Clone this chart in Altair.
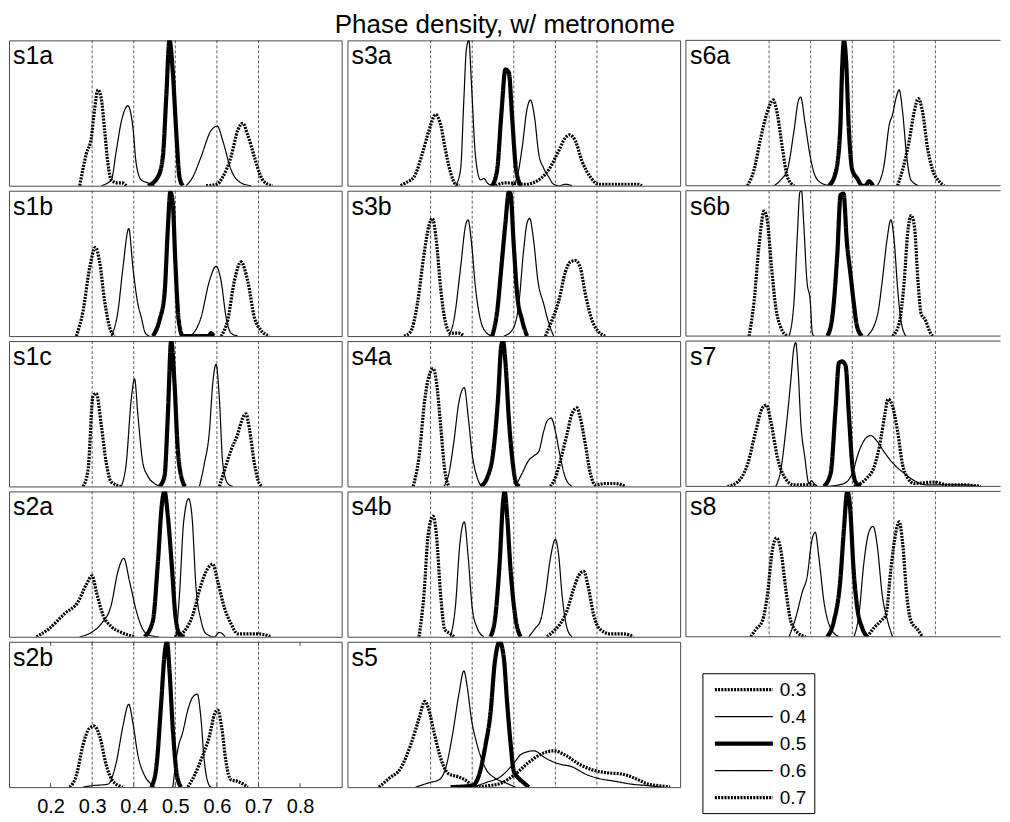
import altair as alt
import pandas as pd

FONT = "Liberation Sans"
TITLE = "Phase density, w/ metronome"
PHASES = ["0.3", "0.4", "0.5", "0.6", "0.7"]
GRID = [0.3, 0.4, 0.5, 0.6, 0.7]
TICKS = [0.2, 0.3, 0.4, 0.5, 0.6, 0.7, 0.8]

# ---- density curves: phase -> (x values, height as share of panel) ----
S1A = {
    "0.3": ([0.270, 0.286, 0.298, 0.306, 0.314, 0.322, 0.330, 0.338, 0.346, 0.360, 0.372, 0.382],
            [0, 0.22, 0.33, 0.53, 0.66, 0.60, 0.38, 0.15, 0.04, 0.02, 0.02, 0]),
    "0.4": ([0.322, 0.346, 0.358, 0.370, 0.386, 0.398, 0.406, 0.418, 0.434, 0.450],
            [0, 0.04, 0.24, 0.44, 0.55, 0.40, 0.15, 0.04, 0.02, 0]),
    "0.5": ([0.434, 0.458, 0.470, 0.478, 0.486, 0.494, 0.502, 0.510, 0.518],
            [0, 0.06, 0.20, 0.60, 1.0, 0.78, 0.38, 0.06, 0]),
    "0.6": ([0.526, 0.542, 0.562, 0.586, 0.601, 0.614, 0.634, 0.658, 0.682],
            [0, 0.06, 0.20, 0.38, 0.41, 0.31, 0.11, 0.02, 0]),
    "0.7": ([0.574, 0.600, 0.614, 0.634, 0.650, 0.662, 0.674, 0.690, 0.706, 0.722, 0.734],
            [0, 0.01, 0.06, 0.20, 0.38, 0.43, 0.35, 0.20, 0.06, 0.01, 0]),
}
S1B = {
    "0.3": ([0.262, 0.278, 0.294, 0.308, 0.318, 0.330, 0.342, 0.354],
            [0, 0.17, 0.47, 0.61, 0.51, 0.24, 0.06, 0]),
    "0.4": ([0.346, 0.362, 0.374, 0.388, 0.398, 0.410, 0.418, 0.428, 0.438],
            [0, 0.17, 0.47, 0.74, 0.47, 0.22, 0.13, 0.02, 0]),
    "0.5": ([0.446, 0.462, 0.474, 0.482, 0.488, 0.494, 0.500, 0.508, 0.518, 0.580, 0.586, 0.592],
            [0, 0.11, 0.29, 0.74, 0.99, 0.91, 0.51, 0.11, 0, 0, 0.02, 0]),
    "0.6": ([0.538, 0.562, 0.582, 0.598, 0.610, 0.622, 0.634, 0.650],
            [0, 0.13, 0.38, 0.48, 0.38, 0.13, 0.02, 0]),
    "0.7": ([0.610, 0.626, 0.642, 0.658, 0.674, 0.690, 0.706, 0.726],
            [0, 0.11, 0.38, 0.51, 0.38, 0.13, 0.04, 0]),
}
S1C = {
    "0.3": ([0.278, 0.290, 0.302, 0.310, 0.322, 0.334, 0.346, 0.370],
            [0, 0.11, 0.62, 0.64, 0.42, 0.16, 0.03, 0]),
    "0.4": ([0.370, 0.382, 0.394, 0.402, 0.410, 0.422, 0.434, 0.450, 0.462],
            [0, 0.16, 0.60, 0.74, 0.49, 0.16, 0.07, 0.02, 0]),
    "0.5": ([0.462, 0.474, 0.482, 0.490, 0.498, 0.506, 0.518, 0.524],
            [0, 0.07, 0.49, 1.0, 0.71, 0.25, 0.03, 0]),
    "0.6": ([0.558, 0.570, 0.582, 0.590, 0.598, 0.606, 0.614, 0.626, 0.638],
            [0, 0.16, 0.38, 0.71, 0.84, 0.60, 0.16, 0.02, 0]),
    "0.7": ([0.606, 0.618, 0.634, 0.650, 0.662, 0.670, 0.678, 0.690, 0.702, 0.710],
            [0, 0.11, 0.25, 0.36, 0.47, 0.50, 0.40, 0.16, 0.02, 0]),
}
S2A = {
    "0.3": ([0.166, 0.194, 0.234, 0.266, 0.286, 0.300, 0.310, 0.326, 0.346, 0.370, 0.402],
            [0, 0.05, 0.16, 0.24, 0.36, 0.42, 0.31, 0.15, 0.07, 0.03, 0]),
    "0.4": ([0.270, 0.298, 0.322, 0.346, 0.362, 0.376, 0.390, 0.406, 0.422, 0.438, 0.460],
            [0, 0.03, 0.09, 0.22, 0.45, 0.54, 0.38, 0.18, 0.05, 0.01, 0]),
    "0.5": ([0.426, 0.446, 0.458, 0.468, 0.474, 0.482, 0.492, 0.500, 0.510, 0.522],
            [0, 0.11, 0.51, 0.92, 1.0, 0.83, 0.47, 0.15, 0.02, 0]),
    "0.6": ([0.502, 0.510, 0.520, 0.532, 0.540, 0.550, 0.562, 0.574, 0.594, 0.606, 0.620],
            [0, 0.29, 0.79, 0.95, 0.83, 0.33, 0.11, 0.02, 0, 0.03, 0]),
    "0.7": ([0.498, 0.522, 0.542, 0.562, 0.578, 0.590, 0.602, 0.618, 0.634, 0.650, 0.674, 0.700, 0.730],
            [0, 0.04, 0.15, 0.36, 0.47, 0.50, 0.38, 0.20, 0.09, 0.02, 0.02, 0.02, 0]),
}
S2B = {
    "0.3": ([0.246, 0.262, 0.278, 0.292, 0.305, 0.318, 0.334, 0.350, 0.374],
            [0, 0.08, 0.29, 0.40, 0.42, 0.35, 0.15, 0.04, 0]),
    "0.4": ([0.278, 0.300, 0.338, 0.358, 0.374, 0.388, 0.398, 0.410, 0.426, 0.442, 0.450],
            [0, 0.01, 0.02, 0.17, 0.42, 0.57, 0.44, 0.22, 0.08, 0.02, 0]),
    "0.5": ([0.442, 0.454, 0.466, 0.474, 0.480, 0.486, 0.494, 0.504, 0.514],
            [0, 0.13, 0.58, 0.91, 1.0, 0.80, 0.40, 0.08, 0]),
    "0.6": ([0.494, 0.506, 0.518, 0.530, 0.542, 0.553, 0.561, 0.570, 0.580, 0.586],
            [0, 0.26, 0.38, 0.53, 0.62, 0.64, 0.49, 0.17, 0.02, 0]),
    "0.7": ([0.530, 0.546, 0.566, 0.582, 0.594, 0.602, 0.612, 0.622, 0.634, 0.650, 0.674],
            [0, 0.08, 0.22, 0.35, 0.50, 0.53, 0.40, 0.17, 0.05, 0.04, 0]),
}
S3A = {
    "0.3": ([0.228, 0.240, 0.260, 0.280, 0.296, 0.312, 0.324, 0.336, 0.348, 0.360, 0.370],
            [0, 0.02, 0.06, 0.22, 0.38, 0.49, 0.42, 0.24, 0.09, 0.01, 0]),
    "0.4": ([0.360, 0.372, 0.380, 0.386, 0.392, 0.398, 0.408, 0.420, 0.428, 0.436, 0.448],
            [0, 0.11, 0.60, 0.94, 1.0, 0.71, 0.20, 0.04, 0.05, 0.02, 0]),
    "0.5": ([0.448, 0.460, 0.470, 0.480, 0.488, 0.496, 0.504, 0.512, 0.518],
            [0, 0.11, 0.49, 0.80, 0.78, 0.47, 0.15, 0.03, 0]),
    "0.6": ([0.496, 0.508, 0.520, 0.532, 0.540, 0.550, 0.560, 0.572, 0.584, 0.596, 0.610, 0.624, 0.640],
            [0, 0.06, 0.26, 0.53, 0.59, 0.47, 0.22, 0.12, 0.06, 0.01, 0, 0.01, 0]),
    "0.7": ([0.456, 0.480, 0.528, 0.560, 0.584, 0.608, 0.624, 0.634, 0.648, 0.664, 0.684, 0.704, 0.800, 0.808],
            [0, 0.02, 0.01, 0.04, 0.11, 0.24, 0.33, 0.35, 0.31, 0.17, 0.06, 0.01, 0.01, 0]),
}
S3B = {
    "0.3": ([0.236, 0.252, 0.268, 0.284, 0.296, 0.304, 0.314, 0.324, 0.336, 0.348, 0.368, 0.380],
            [0, 0.03, 0.22, 0.56, 0.76, 0.81, 0.65, 0.33, 0.09, 0.02, 0.02, 0]),
    "0.4": ([0.344, 0.356, 0.372, 0.384, 0.390, 0.398, 0.408, 0.420, 0.432, 0.448],
            [0, 0.11, 0.47, 0.76, 0.80, 0.65, 0.33, 0.11, 0.03, 0]),
    "0.5": ([0.448, 0.460, 0.470, 0.480, 0.488, 0.492, 0.500, 0.508, 0.520, 0.532],
            [0, 0.17, 0.47, 0.78, 0.99, 0.98, 0.62, 0.29, 0.11, 0]),
    "0.6": ([0.476, 0.496, 0.512, 0.524, 0.532, 0.538, 0.548, 0.558, 0.572, 0.584, 0.596],
            [0, 0.04, 0.22, 0.60, 0.78, 0.81, 0.65, 0.38, 0.22, 0.09, 0]),
    "0.7": ([0.576, 0.592, 0.608, 0.624, 0.636, 0.648, 0.660, 0.672, 0.688, 0.704, 0.720],
            [0, 0.11, 0.24, 0.44, 0.51, 0.52, 0.47, 0.29, 0.11, 0.03, 0]),
}
S4A = {
    "0.3": ([0.258, 0.272, 0.286, 0.296, 0.306, 0.314, 0.324, 0.334, 0.344],
            [0, 0.20, 0.60, 0.76, 0.81, 0.72, 0.42, 0.11, 0]),
    "0.4": ([0.332, 0.344, 0.356, 0.368, 0.381, 0.390, 0.400, 0.412, 0.424],
            [0, 0.09, 0.31, 0.58, 0.68, 0.49, 0.22, 0.06, 0]),
    "0.5": ([0.420, 0.436, 0.452, 0.462, 0.470, 0.474, 0.480, 0.488, 0.498, 0.506, 0.514],
            [0, 0.06, 0.27, 0.60, 0.97, 1.0, 0.85, 0.47, 0.15, 0.02, 0]),
    "0.6": ([0.504, 0.520, 0.536, 0.548, 0.560, 0.572, 0.580, 0.590, 0.600, 0.612, 0.624, 0.640],
            [0, 0.09, 0.18, 0.21, 0.24, 0.38, 0.45, 0.47, 0.38, 0.20, 0.06, 0]),
    "0.7": ([0.588, 0.600, 0.614, 0.628, 0.640, 0.652, 0.660, 0.672, 0.684, 0.696, 0.720, 0.744, 0.768],
            [0, 0.06, 0.20, 0.36, 0.50, 0.54, 0.47, 0.29, 0.09, 0.01, 0.02, 0.02, 0]),
}
S4B = {
    "0.3": ([0.272, 0.284, 0.294, 0.306, 0.314, 0.324, 0.334, 0.348, 0.356],
            [0, 0.29, 0.70, 0.83, 0.70, 0.29, 0.05, 0.02, 0]),
    "0.4": ([0.348, 0.360, 0.370, 0.381, 0.390, 0.400, 0.412, 0.428],
            [0, 0.22, 0.63, 0.79, 0.56, 0.20, 0.06, 0]),
    "0.5": ([0.444, 0.456, 0.466, 0.474, 0.478, 0.484, 0.492, 0.504, 0.516],
            [0, 0.15, 0.51, 0.92, 1.0, 0.83, 0.47, 0.13, 0]),
    "0.6": ([0.536, 0.552, 0.564, 0.576, 0.588, 0.600, 0.608, 0.616, 0.628, 0.640],
            [0, 0.06, 0.11, 0.29, 0.54, 0.67, 0.56, 0.29, 0.06, 0]),
    "0.7": ([0.580, 0.596, 0.612, 0.628, 0.644, 0.656, 0.668, 0.680, 0.692, 0.708, 0.732, 0.764, 0.788],
            [0, 0.04, 0.09, 0.18, 0.33, 0.42, 0.45, 0.33, 0.15, 0.05, 0.02, 0.02, 0]),
}
S5 = {
    "0.3": ([0.176, 0.200, 0.228, 0.252, 0.272, 0.286, 0.296, 0.308, 0.324, 0.344, 0.368, 0.388, 0.400, 0.420],
            [0, 0.06, 0.13, 0.29, 0.47, 0.59, 0.53, 0.38, 0.20, 0.09, 0.07, 0.04, 0.01, 0]),
    "0.4": ([0.264, 0.296, 0.320, 0.336, 0.352, 0.368, 0.380, 0.388, 0.398, 0.412, 0.432, 0.456, 0.480, 0.504],
            [0, 0.03, 0.05, 0.13, 0.35, 0.64, 0.80, 0.69, 0.47, 0.29, 0.13, 0.06, 0.03, 0]),
    "0.5": ([0.348, 0.400, 0.416, 0.432, 0.444, 0.454, 0.466, 0.476, 0.484, 0.492, 0.500, 0.512, 0.524, 0.536],
            [0, 0.01, 0.08, 0.29, 0.51, 0.85, 1.0, 0.89, 0.58, 0.31, 0.11, 0.06, 0.03, 0]),
    "0.6": ([0.400, 0.432, 0.472, 0.496, 0.520, 0.548, 0.576, 0.608, 0.640, 0.672, 0.704, 0.744, 0.784, 0.824, 0.856],
            [0, 0.03, 0.08, 0.15, 0.23, 0.25, 0.20, 0.16, 0.14, 0.09, 0.06, 0.04, 0.02, 0.01, 0]),
    "0.7": ([0.408, 0.440, 0.472, 0.504, 0.536, 0.568, 0.596, 0.624, 0.656, 0.688, 0.720, 0.760, 0.792, 0.824, 0.848, 0.876],
            [0, 0.01, 0.03, 0.09, 0.17, 0.23, 0.25, 0.22, 0.16, 0.12, 0.10, 0.09, 0.06, 0.02, 0.01, 0]),
}
S6A = {
    "0.3": ([0.248, 0.264, 0.280, 0.296, 0.310, 0.320, 0.332, 0.344, 0.360],
            [0, 0.11, 0.33, 0.51, 0.59, 0.49, 0.26, 0.06, 0]),
    "0.4": ([0.312, 0.328, 0.344, 0.360, 0.370, 0.376, 0.386, 0.399, 0.412, 0.432, 0.450],
            [0, 0.04, 0.11, 0.38, 0.58, 0.61, 0.44, 0.20, 0.06, 0.01, 0]),
    "0.5": ([0.444, 0.460, 0.471, 0.476, 0.480, 0.485, 0.492, 0.500, 0.512, 0.524, 0.532, 0.540, 0.550],
            [0, 0.09, 0.38, 0.83, 1.0, 0.87, 0.38, 0.11, 0.05, 0, 0, 0.03, 0]),
    "0.6": ([0.560, 0.577, 0.589, 0.597, 0.605, 0.613, 0.621, 0.631, 0.641, 0.660],
            [0, 0.15, 0.42, 0.49, 0.60, 0.66, 0.51, 0.20, 0.04, 0]),
    "0.7": ([0.609, 0.621, 0.637, 0.649, 0.659, 0.669, 0.681, 0.693, 0.709, 0.721],
            [0, 0.11, 0.31, 0.51, 0.60, 0.51, 0.26, 0.11, 0.03, 0]),
}
S6B = {
    "0.3": ([0.252, 0.264, 0.276, 0.288, 0.296, 0.306, 0.316, 0.328, 0.344],
            [0, 0.24, 0.63, 0.86, 0.79, 0.47, 0.20, 0.06, 0]),
    "0.4": ([0.348, 0.360, 0.368, 0.374, 0.378, 0.383, 0.391, 0.399, 0.404, 0.408],
            [0, 0.24, 0.70, 0.99, 1.0, 0.79, 0.38, 0.24, 0.02, 0]),
    "0.5": ([0.440, 0.452, 0.464, 0.472, 0.479, 0.487, 0.496, 0.504, 0.512, 0.524],
            [0, 0.13, 0.56, 0.97, 0.98, 0.65, 0.42, 0.22, 0.06, 0]),
    "0.6": ([0.536, 0.561, 0.573, 0.583, 0.593, 0.601, 0.609, 0.617, 0.629],
            [0, 0.15, 0.40, 0.65, 0.80, 0.65, 0.33, 0.11, 0]),
    "0.7": ([0.597, 0.613, 0.625, 0.633, 0.642, 0.650, 0.658, 0.666, 0.676, 0.688, 0.694],
            [0, 0.09, 0.38, 0.70, 0.83, 0.74, 0.38, 0.15, 0.11, 0.02, 0]),
}
S7 = {
    "0.3": ([0.200, 0.224, 0.248, 0.268, 0.284, 0.294, 0.304, 0.320, 0.336, 0.360, 0.404, 0.414],
            [0, 0.03, 0.15, 0.38, 0.54, 0.56, 0.45, 0.20, 0.07, 0.01, 0.01, 0]),
    "0.4": ([0.316, 0.328, 0.340, 0.352, 0.359, 0.364, 0.370, 0.376, 0.386, 0.396, 0.402, 0.408, 0.416],
            [0, 0.11, 0.38, 0.72, 0.94, 0.99, 0.79, 0.45, 0.20, 0.02, 0.04, 0.02, 0]),
    "0.5": ([0.432, 0.448, 0.460, 0.468, 0.476, 0.484, 0.492, 0.500, 0.508, 0.520],
            [0, 0.09, 0.54, 0.85, 0.86, 0.83, 0.49, 0.15, 0.03, 0]),
    "0.6": ([0.440, 0.480, 0.500, 0.516, 0.532, 0.544, 0.560, 0.576, 0.601, 0.625, 0.649, 0.681, 0.729, 0.777, 0.800],
            [0, 0.02, 0.09, 0.24, 0.33, 0.35, 0.31, 0.24, 0.15, 0.09, 0.04, 0.01, 0.01, 0.01, 0]),
    "0.7": ([0.504, 0.520, 0.536, 0.552, 0.569, 0.578, 0.586, 0.596, 0.609, 0.621, 0.633, 0.649, 0.697, 0.729, 0.769, 0.809],
            [0, 0.02, 0.06, 0.13, 0.33, 0.49, 0.60, 0.56, 0.38, 0.15, 0.06, 0.02, 0.03, 0.01, 0.01, 0]),
}
S8 = {
    "0.3": ([0.256, 0.268, 0.284, 0.296, 0.308, 0.318, 0.328, 0.340, 0.352, 0.368, 0.388],
            [0, 0.05, 0.11, 0.29, 0.60, 0.68, 0.60, 0.33, 0.11, 0.03, 0]),
    "0.4": ([0.348, 0.364, 0.380, 0.392, 0.402, 0.411, 0.420, 0.432, 0.448, 0.468],
            [0, 0.13, 0.31, 0.42, 0.65, 0.72, 0.54, 0.24, 0.06, 0]),
    "0.5": ([0.440, 0.456, 0.471, 0.480, 0.488, 0.495, 0.503, 0.512, 0.524, 0.536],
            [0, 0.11, 0.38, 0.74, 1.0, 0.88, 0.47, 0.20, 0.06, 0]),
    "0.6": ([0.504, 0.516, 0.528, 0.540, 0.550, 0.560, 0.572, 0.585, 0.597],
            [0, 0.15, 0.51, 0.72, 0.76, 0.63, 0.29, 0.11, 0]),
    "0.7": ([0.536, 0.552, 0.569, 0.581, 0.593, 0.605, 0.613, 0.621, 0.631, 0.641, 0.657, 0.669],
            [0, 0.06, 0.11, 0.15, 0.47, 0.72, 0.79, 0.65, 0.29, 0.11, 0.05, 0]),
}

PANEL_DATA = {"s1a": S1A, "s1b": S1B, "s1c": S1C, "s2a": S2A, "s2b": S2B,
              "s3a": S3A, "s3b": S3B, "s4a": S4A, "s4b": S4B, "s5": S5,
              "s6a": S6A, "s6b": S6B, "s7": S7, "s8": S8}
LAYOUT = [["s1a", "s3a", "s6a"],
          ["s1b", "s3b", "s6b"],
          ["s1c", "s4a", "s7"],
          ["s2a", "s4b", "s8"],
          ["s2b", "s5", "legend"]]

# ---- styles ----
W_FULL, W_LAST, H = 333, 315, 145.5
DASHES = [[2, 1.2], [1, 0], [1, 0], [1, 0], [2, 1.2]]
WIDTHS = [3.2, 1.2, 4.2, 1.2, 3.2]
FRAME = "#4a4a4a"

dash_enc = alt.StrokeDash("phase:N", scale=alt.Scale(domain=PHASES, range=DASHES), legend=None)
width_enc = alt.StrokeWidth("p:Q", scale=alt.Scale(type="threshold", domain=[0.35, 0.45, 0.55, 0.65],
                                                     range=WIDTHS), legend=None)


def frame_rules(w):
    one = pd.DataFrame({"a": [0]})
    base = alt.Chart(one).mark_rule(color=FRAME, strokeWidth=1)
    top = base.encode(x=alt.value(0), x2=alt.value(w), y=alt.value(0))
    bottom = base.encode(x=alt.value(0), x2=alt.value(w), y=alt.value(H))
    left = base.encode(x=alt.value(0), y=alt.value(0), y2=alt.value(H))
    return [top, bottom, left]


def panel(name, w, open_right):
    d = PANEL_DATA[name]
    rows = []
    for ph in PHASES:
        xs, ys = d[ph]
        for x, y in zip(xs, ys):
            rows.append({"phase": ph, "p": float(ph), "x": x, "y": y})
    df = pd.DataFrame(rows)
    xmax = 0.1 + 0.8 * w / W_FULL
    xscale = alt.Scale(domain=[0.1, xmax], nice=False, zero=False)
    yscale = alt.Scale(domain=[0, 1], nice=False, zero=False)
    with_axis = name == "s2b"
    if with_axis:
        xaxis = alt.Axis(values=TICKS, format=".1f", labelFontSize=20, labelFont=FONT,
                         labelColor="black", ticks=False, domain=False, grid=False,
                         labelPadding=9, labelFlush=False, title=None)
    else:
        xaxis = None

    grid = alt.Chart(pd.DataFrame({"g": GRID})).mark_rule(
        strokeDash=[3, 2], strokeWidth=0.8, color="#333"
    ).encode(x=alt.X("g:Q", scale=xscale, axis=xaxis, title=None))

    lines = alt.Chart(df).mark_line(interpolate="monotone", color="black", clip=True).encode(
        x=alt.X("x:Q", scale=xscale, axis=xaxis, title=None),
        y=alt.Y("y:Q", scale=yscale, axis=None),
        detail="phase:N",
        strokeDash=dash_enc,
        strokeWidth=width_enc,
    )

    label = alt.Chart(pd.DataFrame({"t": [name]})).mark_text(
        align="left", baseline="alphabetic", fontSize=25, font=FONT, color="black"
    ).encode(x=alt.value(4), y=alt.value(24), text="t:N")

    layers = [grid, lines, label]
    if with_axis:
        tdf = pd.DataFrame({"t": TICKS})
        tb = alt.Chart(tdf).mark_rule(color=FRAME, strokeWidth=1)
        layers.append(tb.encode(x=alt.X("t:Q", scale=xscale, axis=xaxis, title=None),
                                y=alt.value(H - 4), y2=alt.value(H)))
        layers.append(tb.encode(x=alt.X("t:Q", scale=xscale, axis=xaxis, title=None),
                                y=alt.value(0), y2=alt.value(4)))
    if open_right:
        layers += frame_rules(w)
        return alt.layer(*layers).properties(width=w, height=H,
                                             view=alt.ViewBackground(stroke=None))
    return alt.layer(*layers).properties(width=w, height=H)


def legend_panel(w):
    ldf = pd.DataFrame({"phase": PHASES, "p": [float(p) for p in PHASES]})
    ly = alt.Y("phase:N", scale=alt.Scale(domain=PHASES, type="point", range=[48, 156], padding=0),
               axis=None)
    box = alt.Chart(pd.DataFrame({"a": [0]})).mark_rect(
        fill="white", stroke="black", strokeWidth=1
    ).encode(x=alt.value(17), x2=alt.value(129), y=alt.value(32), y2=alt.value(172))
    samples = alt.Chart(ldf).mark_rule(color="black").encode(
        x=alt.value(29), x2=alt.value(87), y=ly, strokeDash=dash_enc, strokeWidth=width_enc
    )
    texts = alt.Chart(ldf).mark_text(
        align="left", baseline="middle", fontSize=19, font=FONT, color="black"
    ).encode(x=alt.value(94), y=ly, text="phase:N")
    return alt.layer(box, samples, texts).properties(
        width=w, height=H, view=alt.ViewBackground(stroke=None))


cells = []
for row in LAYOUT:
    for ci, name in enumerate(row):
        w = W_LAST if ci == 2 else W_FULL
        if name == "legend":
            cells.append(legend_panel(w))
        else:
            cells.append(panel(name, w, open_right=(ci == 2)))

chart = alt.concat(
    *cells, columns=3, spacing={"row": 4.5, "column": 5.8}, align="each", bounds="flush"
).properties(
    title=alt.Title(TITLE, fontSize=26, font=FONT, fontWeight="normal", anchor="middle",
                    offset=1, color="black"),
    padding={"top": 4, "left": 0, "right": 0, "bottom": 0},
).configure(font=FONT).configure_view(stroke=FRAME, strokeWidth=1)

chart.save("out.html", embed_options={"renderer": "svg", "actions": False})
